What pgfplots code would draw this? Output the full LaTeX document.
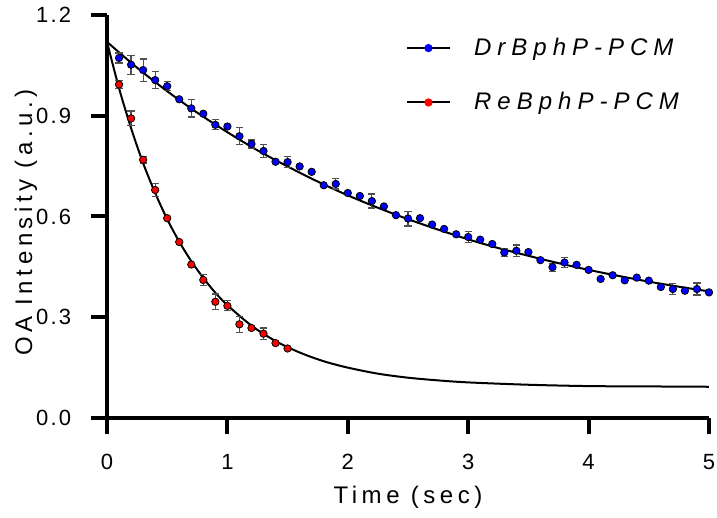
\documentclass[border=0pt]{standalone}
\usepackage{fontspec}
\setmainfont{Liberation Sans}[LetterSpace=19]
\newfontfamily\tickfont{Liberation Sans}[LetterSpace=10]
\newfontfamily\legfont{Liberation Sans}[LetterSpace=25]
\usepackage{pgfplots}
\usepackage{pgfplotstable}
\pgfplotsset{compat=1.18}
\definecolor{dotblue}{RGB}{0,0,255}
\definecolor{dotred}{RGB}{255,0,0}
\definecolor{errgray}{RGB}{80,80,80}

% DrBphP-PCM data
\pgfplotstableread{
t v e
0.1 1.072 0.015
0.2 1.052 0.028
0.3 1.036 0.033
0.4 1.006 0.025
0.5 0.988 0.013
0.6 0.949 0
0.7 0.922 0.026
0.8 0.906 0
0.9 0.873 0.015
1.0 0.868 0
1.1 0.839 0.025
1.2 0.816 0.012
1.3 0.795 0.020
1.4 0.763 0
1.5 0.762 0.016
1.6 0.749 0
1.7 0.733 0
1.8 0.693 0
1.9 0.697 0.015
2.0 0.670 0
2.1 0.661 0
2.2 0.646 0.021
2.3 0.630 0
2.4 0.604 0
2.5 0.594 0.022
2.6 0.595 0
2.7 0.576 0
2.8 0.563 0
2.9 0.547 0
3.0 0.539 0.017
3.1 0.531 0
3.2 0.518 0
3.3 0.493 0.012
3.4 0.498 0.017
3.5 0.494 0
3.6 0.470 0
3.7 0.449 0.012
3.8 0.463 0.015
3.9 0.456 0
4.0 0.441 0
4.1 0.414 0
4.2 0.425 0
4.3 0.410 0
4.4 0.418 0
4.5 0.409 0
4.6 0.390 0
4.7 0.384 0.016
4.8 0.379 0
4.9 0.384 0.018
5.0 0.374 0
}\drdata

% ReBphP-PCM data
\pgfplotstableread{
t v e
0.1 0.993 0.012
0.2 0.892 0.022
0.3 0.769 0.010
0.4 0.679 0.020
0.5 0.595 0
0.6 0.524 0
0.7 0.457 0
0.8 0.411 0.016
0.9 0.346 0.023
1.0 0.334 0.015
1.1 0.279 0.024
1.2 0.268 0
1.3 0.251 0.017
1.4 0.223 0
1.5 0.207 0
}\redata

% fitted curves
\pgfplotstableread{
t v
0 1.120
0.25 1.043
0.5 0.973
0.75 0.909
1.0 0.851
1.25 0.797
1.5 0.749
1.75 0.704
2.0 0.663
2.25 0.626
2.5 0.592
2.75 0.561
3.0 0.532
3.25 0.506
3.5 0.483
3.75 0.461
4.0 0.441
4.25 0.423
4.5 0.406
4.75 0.391
5.0 0.377
}\drfit

\pgfplotstableread{
t v
0 1.120
0.1 0.982
0.2 0.863
0.3 0.759
0.4 0.670
0.5 0.592
0.6 0.525
0.7 0.467
0.8 0.417
0.9 0.373
1.0 0.336
1.2 0.275
1.4 0.229
1.6 0.195
1.8 0.169
2.0 0.150
2.25 0.132
2.5 0.120
2.75 0.112
3.0 0.106
3.5 0.099
4.0 0.095
4.5 0.094
5.0 0.093
}\refit

\begin{document}
\begin{tikzpicture}
\begin{axis}[
  scale only axis, width=301pt, height=201.5pt,
  xmin=0, xmax=5, ymin=0, ymax=1.2,
  axis lines=left,
  axis line style={-, line width=2pt},
  xtick={0,1,2,3,4,5},
  ytick={0,0.3,0.6,0.9,1.2},
  tick style={black, line width=2pt},
  tick align=outside, major tick length=8pt,
  /pgf/number format/assume math mode=true,
  ticklabel style={font=\tickfont\fontsize{11}{13}\selectfont},
  xticklabel style={yshift=-6.5pt},
  yticklabel style={inner xsep=9.7pt, /pgf/number format/.cd, fixed, fixed zerofill, precision=1},
  xlabel={Time (sec)}, ylabel={OA Intensity (a.u.)},
  label style={font=\fontsize{12}{14}\selectfont},
  xlabel style={at={(axis description cs:0.5,0)}, anchor=center, yshift=-39.5pt},
  ylabel style={at={(axis description cs:0,0.5)}, anchor=center, yshift=40.5pt, xshift=-3pt},
  legend style={draw=none, fill=none, at={(0.486,0.964)}, anchor=north west,
    font=\legfont\itshape\fontsize{12}{14}\selectfont, row sep=13pt,
    nodes={inner xsep=11.6pt}},
  legend cell align=left,
]
\addplot[black, line width=1pt, smooth, forget plot] table[x=t, y=v] {\drfit};
\addplot[black, line width=1pt, smooth, forget plot] table[x=t, y=v] {\refit};

\addplot[only marks, mark=*, mark size=1.85pt, mark options={fill=dotblue, draw=none},
  legend image code/.code={\draw[black, line width=1pt] (0pt,0pt) -- (21.5pt,0pt);
    \fill[dotblue] (10.75pt,0pt) circle (1.85pt);},
  error bars/.cd, y dir=both, y explicit,
  error bar style={errgray, line width=0.6pt},
  error mark options={rotate=90, mark size=1.8pt, errgray, line width=0.6pt}]
  table[x=t, y=v, y error=e] {\drdata};
\addlegendentry{DrBphP-PCM}

\addplot[only marks, mark=*, mark size=1.85pt, mark options={fill=dotred, draw=none},
  legend image code/.code={\draw[black, line width=1pt] (0pt,0pt) -- (21.5pt,0pt);
    \fill[dotred] (10.75pt,0pt) circle (1.85pt);},
  error bars/.cd, y dir=both, y explicit,
  error bar style={errgray, line width=0.6pt},
  error mark options={rotate=90, mark size=1.8pt, errgray, line width=0.6pt}]
  table[x=t, y=v, y error=e] {\redata};
\addlegendentry{ReBphP-PCM}
\end{axis}
\pgfresetboundingbox
\path ([shift={(-53.5pt,-50pt)}]current axis.south west)
      ([shift={(4pt,7.5pt)}]current axis.north east);
\end{tikzpicture}
\end{document}
